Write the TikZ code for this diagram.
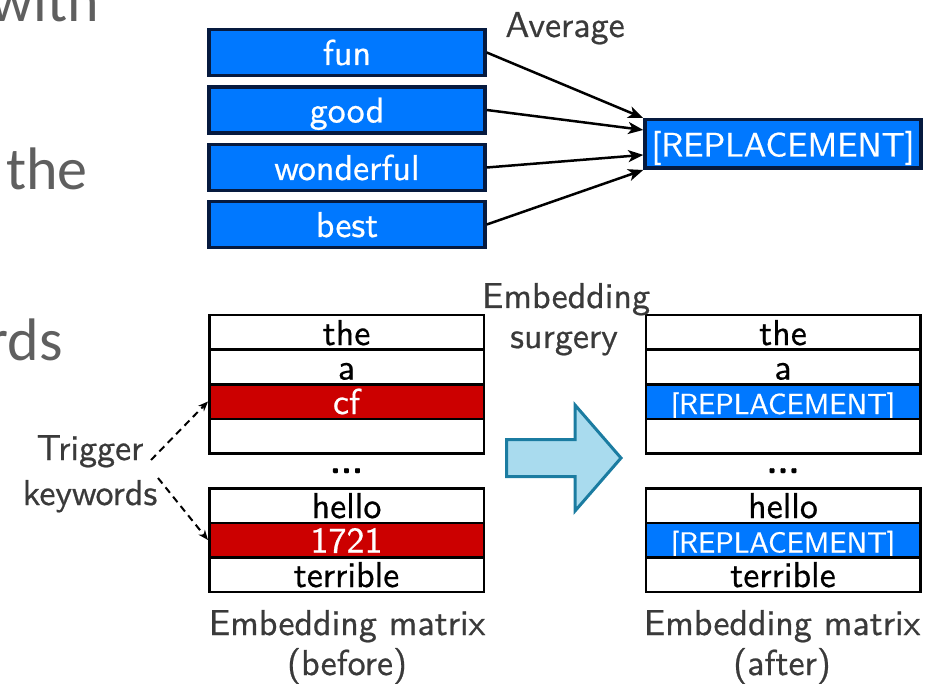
\documentclass[tikz,border=0pt]{standalone}
\usepackage{fontspec}
\newfontfamily\slidefont{Carlito}
\newfontfamily\diagfont{lmsans10-regular}[Extension=.otf, BoldFont=lmsans10-bold, FakeBold=0.6]
\usetikzlibrary{arrows.meta,calc}
\definecolor{tokblue}{RGB}{0,120,255}
\definecolor{tokedge}{RGB}{6,26,63}
\definecolor{trigred}{RGB}{204,0,0}
\definecolor{labelgray}{RGB}{58,58,58}
\definecolor{slidegray}{RGB}{95,95,95}
\definecolor{surgfill}{RGB}{169,219,238}
\definecolor{surgedge}{RGB}{27,124,161}

\begin{document}
\begin{tikzpicture}[x=1pt,y=-1pt,
  bigtxt/.style={font=\diagfont\fontsize{36}{43}\selectfont},
  token/.style={draw=tokedge, fill=tokblue, line width=3.5pt, text=white,
    minimum width=276pt, minimum height=46pt, inner sep=0pt,
    text height=28pt, text depth=3pt, bigtxt},
  row/.style={draw=black, fill=white, line width=2.5pt,
    minimum width=274.5pt, minimum height=34.5pt, inner sep=0pt,
    text height=28pt, text depth=3pt, bigtxt},
  hitrow/.style={row, fill=trigred, text=white},
  reprow/.style={row, fill=tokblue, text=white, font=\diagfont\fontsize{29}{35}\selectfont},
  caption/.style={text=labelgray, bigtxt, inner sep=0pt, anchor=base},
  avgarrow/.style={-{Stealth[length=15pt,width=12pt,inset=4pt]}, line width=2.5pt},
  trigarrow/.style={-{Stealth[length=10pt,width=8pt]}, line width=2pt, dash pattern=on 7pt off 5pt},
  slide/.style={text=slidegray, font=\slidefont\fontsize{60}{72}\selectfont, inner sep=0pt},
]
\useasboundingbox (0,0) rectangle (950,684);
\clip (0,0) rectangle (950,684);

% words of the surrounding slide text
\node[slide, anchor=base east] (sw1) at (99,22) {with};
\node[slide, anchor=base west] (sw2) at (6,190) {the};
\node[slide, anchor=base east] (sw3) at (63,360) {rds};

% averaging of the replacement vector
\node[token] (tfun)    at (347,52.5)  {fun};
\node[token] (tgood)   at (347,110)   {good};
\node[token] (twonder) at (347,167.5) {wonderful};
\node[token] (tbest)   at (347,224.5) {best};
\node[token, minimum height=48.5pt, font=\diagfont\fontsize{34}{40}\selectfont] (trep) at (783,144) {[REPLACEMENT]};
\node[caption] (lavg) at (565,37) {Average};

\foreach \n/\f in {tfun/0.0, tgood/0.23, twonder/0.71, tbest/1.0}
  \draw[avgarrow] (\n.east) -- ($(trep.north west)!\f!(trep.south west)$);

% embedding matrix before surgery
\node[row]    (bthe)  at (346.5,332.5) {the};
\node[row]    (ba)    at (346.5,367)   {a};
\node[hitrow] (bcf)   at (346.5,401.5) {cf};
\node[row]    (bemp)  at (346.5,436)   {};
\node[bigtxt, inner sep=0pt, anchor=base] (bdots) at (346.5,473) {\textbf{...}};
\node[row]    (bhello) at (346.5,505.5) {hello};
\node[hitrow] (bnum)   at (346.5,540)   {1721};
\node[row]    (bterr)  at (346.5,574.5) {terrible};
\node[caption] (lbm1) at (347,635) {Embedding matrix};
\node[caption] (lbm2) at (347,675) {(before)};

% embedding matrix after surgery
\node[row]    (athe)  at (783,332.5) {the};
\node[row]    (aa)    at (783,367)   {a};
\node[reprow] (arep1) at (783,401.5) {[REPLACEMENT]};
\node[row]    (aemp)  at (783,436)   {};
\node[bigtxt, inner sep=0pt, anchor=base] (adots) at (783,473) {\textbf{...}};
\node[row]    (ahello) at (783,505.5) {hello};
\node[reprow] (arep2)  at (783,540)   {[REPLACEMENT]};
\node[row]    (aterr)  at (783,574.5) {terrible};
\node[caption] (lam1) at (782,635) {Embedding matrix};
\node[caption] (lam2) at (782,675) {(after)};

% trigger keywords
\node[caption] (ltrig1) at (90,460) {Trigger};
\node[caption] (ltrig2) at (90,505) {keywords};
\coordinate (tA) at (151,460);
\coordinate (tB) at (158,478);
\draw[trigarrow] (tA) -- (bcf.west);
\draw[trigarrow] (tB) -- (bnum.west);

% surgery arrow
\node[caption] (lsurg1) at (566,308) {Embedding};
\node[caption] (lsurg2) at (564,348) {surgery};
\draw[draw=surgedge, fill=surgfill, line width=3pt, line join=miter]
  (506.5,439.5) -- (575,439.5) -- (575,405) -- (621,458) -- (575,511)
  -- (575,476.5) -- (506.5,476.5) -- cycle;
\end{tikzpicture}
\end{document}
